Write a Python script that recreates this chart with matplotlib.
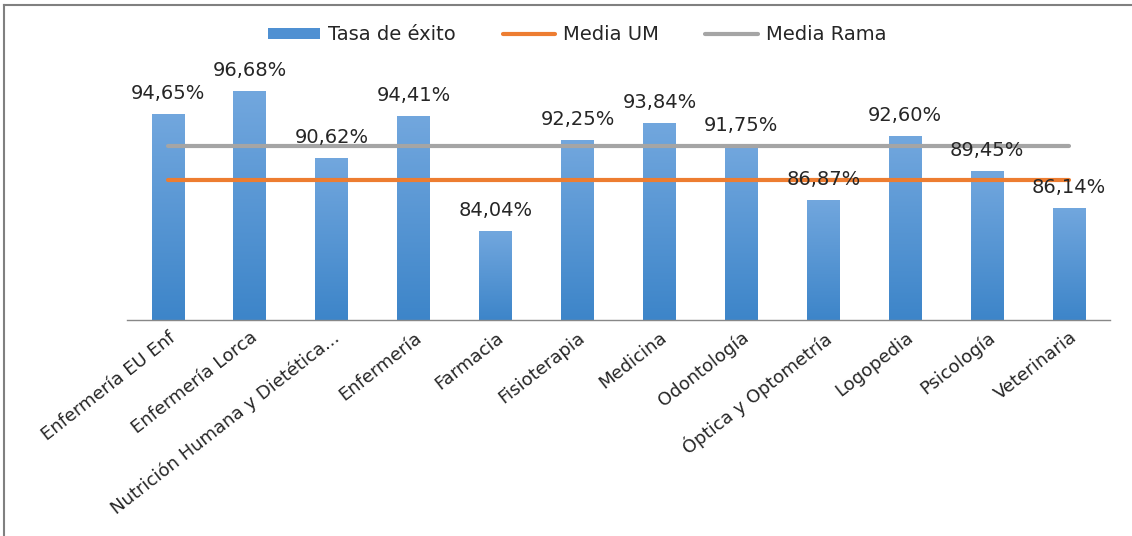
import matplotlib.pyplot as plt
import numpy as np
from matplotlib.lines import Line2D
from matplotlib.patches import Patch
from matplotlib.colors import LinearSegmentedColormap

categorias = ["Enfermería EU Enf", "Enfermería Lorca", "Nutrición Humana y Dietética...",
              "Enfermería", "Farmacia", "Fisioterapia", "Medicina", "Odontología",
              "Óptica y Optometría", "Logopedia", "Psicología", "Veterinaria"]
tasa_exito = [94.65, 96.68, 90.62, 94.41, 84.04, 92.25, 93.84, 91.75, 86.87, 92.60, 89.45, 86.14]
media_um = [88.61] * 12
media_rama = [91.69] * 12

plt.rcParams['font.family'] = ['DejaVu Sans']

W, H = 1132, 536
fig = plt.figure(figsize=(W / 100, H / 100), dpi=100)
# plot area in pixel coordinates
left, right, top, bottom = 127, 1110, 76.6, 320
ax = fig.add_axes([left / W, 1 - bottom / H, (right - left) / W, (bottom - top) / H])

x = np.arange(len(categorias))
bars = ax.bar(x, tasa_exito, width=0.4, color='#5b9bd5', zorder=2)

# vertical gradient on each bar (darker at the bottom)
grad = np.linspace(0, 1, 256).reshape(-1, 1)
cmap = LinearSegmentedColormap.from_list('g', ['#3d85c9', '#72a7de'])
for b in bars:
    bx = b.get_x()
    im = ax.imshow(grad, cmap=cmap, aspect='auto', origin='lower', zorder=2.1,
                   extent=[bx, bx + b.get_width(), 76, b.get_y() + b.get_height()])
    im.set_clip_path(b)

ax.plot(x, media_um, color='#ed7d31', lw=3, solid_capstyle='round', zorder=3)
ax.plot(x, media_rama, color='#a5a5a5', lw=3, solid_capstyle='round', zorder=3)

for xi, v in zip(x, tasa_exito):
    ax.annotate(f"{v:.2f}%".replace('.', ','), (xi, v), xytext=(0, 8),
                textcoords='offset points', ha='center', va='bottom',
                fontsize=14, color='#262626', zorder=4)

ax.set_xlim(-0.5, len(categorias) - 0.5)
ax.set_ylim(76, 98)
ax.set_yticks([])
ax.set_xticks(x)
ax.set_xticklabels(categorias, rotation=38, ha='right', rotation_mode='anchor',
                   fontsize=13, color='#262626')
ax.tick_params(axis='x', length=0, pad=6)
for s in ['top', 'right', 'left']:
    ax.spines[s].set_visible(False)
ax.spines['bottom'].set_color('#888888')
ax.spines['bottom'].set_linewidth(1)

handles = [Patch(facecolor='#4f90d2', edgecolor='none'),
           Line2D([0], [0], color='#ed7d31', lw=3, solid_capstyle='round'),
           Line2D([0], [0], color='#a5a5a5', lw=3, solid_capstyle='round')]
fig.legend(handles, ["Tasa de éxito", "Media UM", "Media Rama"], loc='center',
           bbox_to_anchor=(577 / W, 1 - 35 / H), ncol=3, frameon=False,
           fontsize=14, handlelength=2.7, handleheight=0.45, columnspacing=2.4,
           handletextpad=0.4, labelcolor='#262626')

# outer frame (only top and left visible in the reference)
fig.add_artist(Line2D([4 / W, 1], [1 - 5 / H, 1 - 5 / H], color='#808080', lw=1.5))
fig.add_artist(Line2D([4 / W, 4 / W], [0, 1 - 5 / H], color='#808080', lw=1.5))

plt.savefig("out.png", dpi=100)
